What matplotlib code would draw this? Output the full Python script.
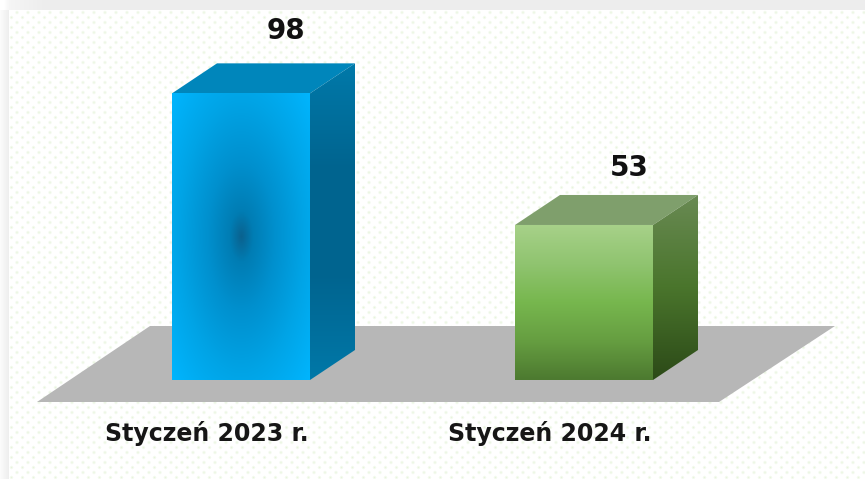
import numpy as np
import matplotlib
matplotlib.use("Agg")
import matplotlib.pyplot as plt
from matplotlib.colors import LinearSegmentedColormap
from matplotlib.patches import Polygon

categories = ["Styczeń 2023 r.", "Styczeń 2024 r."]
values = [98, 53]

W, H = 865, 479
BASE_Y, PX_PER_UNIT = 380, 2.925
X0, PX_PER_CAT = 241, 343
BAR_W = 138 / PX_PER_CAT
DX, DY = 45 / PX_PER_CAT, 30 / PX_PER_UNIT
VALUE_OFFSET = [62, 57]  # px above the front face


def cmap(*colors):
    return LinearSegmentedColormap.from_list("c", colors)


def gradient(ax, pts, arr, cm, vmin=0, vmax=1):
    pts = np.array(pts)
    ext = [pts[:, 0].min(), pts[:, 0].max(), pts[:, 1].min(), pts[:, 1].max()]
    im = ax.imshow(arr, extent=ext, origin="lower", cmap=cm, vmin=vmin, vmax=vmax,
                   aspect="auto", interpolation="bilinear", zorder=3)
    im.set_clip_path(Polygon(pts, transform=ax.transData))


def bar3d(ax, i, v, front, top_c, side):
    l, r = i - BAR_W / 2, i + BAR_W / 2
    ax.add_patch(Polygon([(l, v), (r, v), (r + DX, v + DY), (l + DX, v + DY)],
                         facecolor=top_c, edgecolor="none", zorder=3))
    gradient(ax, [(r, 0), (r + DX, DY), (r + DX, v + DY), (r, v)], *side)
    gradient(ax, [(l, 0), (r, 0), (r, v), (l, v)], *front)


fig = plt.figure(figsize=(W / 100, H / 100), dpi=100)
ax = fig.add_axes([0, 0, 1, 1])
ax.set_xlim(-X0 / PX_PER_CAT, (W - X0) / PX_PER_CAT)
ax.set_ylim((BASE_Y - H) / PX_PER_UNIT, BASE_Y / PX_PER_UNIT)
ax.axis("off")
x_a, x_b = ax.get_xlim()
y_a, y_b = ax.get_ylim()

# grey frame and dotted paper behind the plot
yy, xx = np.mgrid[0:H, 0:W]
row = yy // 5
dot_x = (xx + row * 5.5) % 11
dot_y = yy % 5
soft = np.clip(1 - np.hypot(dot_x - 5.5, dot_y - 2) / 2.2, 0, 1)
paper = np.ones((H, W, 3))
paper -= soft[..., None] * np.array([0.09, 0.04, 0.13])
# frame gets lighter towards the top left corner
frame_v = 0.93 + 0.055 * np.clip(1 - xx / 9, 0, 1) + 0.04 * np.clip(1 - xx / 45, 0, 1) * (yy < 10)
frame = (xx < 9) | (yy < 10)
paper[frame] = np.clip(frame_v[frame], 0, 1)[:, None]
ax.imshow(paper, extent=[x_a, x_b, y_a, y_b], origin="upper", aspect="auto",
          interpolation="bilinear", zorder=0)

# floor
px = lambda x, y: ((x - X0) / PX_PER_CAT, (BASE_Y - y) / PX_PER_UNIT)
ax.add_patch(Polygon([px(37, 402), px(150, 326), px(835, 326), px(719, 402)],
                     facecolor="#b7b7b7", edgecolor="none", zorder=1))

# blue bar: dark spot in the middle of the front face
u, w = np.meshgrid(np.linspace(-1, 1, 140), np.linspace(-1, 1, 280))
spot = np.sqrt(u ** 2 + (w * 0.95) ** 2) / 1.4
blue_map = LinearSegmentedColormap.from_list(
    "b", [(0, "#0a628f"), (0.12, "#007db4"), (0.35, "#0090ce"), (0.65, "#00a4e6"), (1, "#00b6ff")])
blue_front = (spot, blue_map)
blue_side = (np.linspace(0, 1, 100).reshape(-1, 1), cmap("#0078a8", "#00648f", "#00648f", "#0079a9"))
bar3d(ax, 0, values[0], blue_front, "#0086bb", blue_side)

# green bar: vertical banded gradient
ramp = np.linspace(0, 1, 100).reshape(-1, 1)
green_front = (ramp, cmap("#4d7a30", "#669e41", "#77b74e", "#90c470", "#a7d189"))
green_side = (ramp, cmap("#2c4a18", "#4a752c", "#698a53"))
bar3d(ax, 1, values[1], green_front, "#7f9f6c", green_side)

for i, (c, v) in enumerate(zip(categories, values)):
    ax.text(i + 45 / PX_PER_CAT, v + VALUE_OFFSET[i] / PX_PER_UNIT, str(v), ha="center", va="center",
            fontsize=20, fontweight="bold", family="DejaVu Sans", color="#111111", zorder=4)
    ax.text(i - 34.5 / PX_PER_CAT, -53 / PX_PER_UNIT, c, ha="center", va="center",
            fontsize=17, fontweight="bold", family="DejaVu Sans", color="#161616", zorder=4)

fig.savefig("out.png", dpi=100)
